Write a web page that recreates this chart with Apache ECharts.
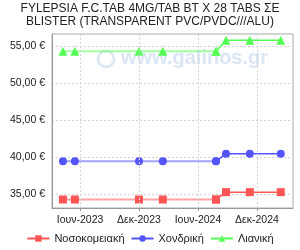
<!DOCTYPE html>
<html><head><meta charset="utf-8">
<script src="https://cdn.jsdelivr.net/npm/echarts@6/dist/echarts.min.js"></script>
<style>html,body{margin:0;padding:0;background:#fff}#c{width:300px;height:250px}</style>
</head><body><div id="c"></div>
<script>
const titleText = 'FYLEPSIA F.C.TAB 4MG/TAB BT X 28 TABS ΣΕ\nBLISTER (TRANSPARENT PVC/PVDC///ALU)';
const dates = ['2023-04-09','2023-05-16','2023-12-01','2024-02-13','2024-07-27','2024-08-27','2024-11-09','2025-02-13'];
const hospital  = [34.25,34.25,34.25,34.25,34.25,35.25,35.25,35.25];
const wholesale = [39.45,39.45,39.45,39.45,39.45,40.45,40.45,40.45];
const retail    = [54.35,54.35,54.35,54.35,54.35,55.85,55.85,55.85];
const seriesNames = ['Νοσοκομειακή','Χονδρική','Λιανική'];
const xTickDates = ['2023-06-01','2023-12-01','2024-06-01','2024-12-01'];
const xTickLabels = ['Ιουν-2023','Δεκ-2023','Ιουν-2024','Δεκ-2024'];
const yTicks = [35,40,45,50,55];
const splitIndex = 4; // older prices (up to this point) drawn with a faded line

const ts = s => new Date(s + 'T00:00:00Z').getTime();
const xTickVals = xTickDates.map(ts);
const pair = arr => dates.map((d,i)=>[ts(d), arr[i]]);

const colors = ['#ff5555','#5555ff','#55ff55'];
const symbols = [['rect',8],['circle',8],['triangle',9]];
const values = [hospital, wholesale, retail];

const series = [];
values.forEach((arr,k)=>{
  const pts = pair(arr);
  series.push({name:seriesNames[k],type:'line',data:pts.slice(splitIndex),symbol:symbols[k][0],symbolSize:symbols[k][1],
    color:colors[k],lineStyle:{width:1.5},z:3});
  series.push({name:seriesNames[k],type:'line',data:pts.slice(0,splitIndex+1),symbol:symbols[k][0],symbolSize:symbols[k][1],
    color:colors[k],lineStyle:{width:2,opacity:0.55},z:2});
});
series.push({type:'line',data:[],markLine:{silent:true,symbol:'none',label:{show:false},
  lineStyle:{color:'#d4d4d4',type:[2,2],width:1},data:xTickVals.map(v=>({xAxis:v}))}});

const chart = echarts.init(document.getElementById('c'));
const font = 'Liberation Sans';
chart.setOption({
  animation:false,
  textStyle:{fontFamily:font},
  title:{text:titleText,left:'center',top:2,padding:0,textStyle:{fontSize:12,fontWeight:'normal',color:'#222',lineHeight:13,fontFamily:font}},
  graphic:[{type:'text',left:121,top:48,silent:true,z:-1,style:{text:'www.galinos.gr',font:'bold 20px Liberation Sans',fill:'rgba(170,195,228,0.42)'}},
           {type:'circle',shape:{cx:106,cy:59,r:8},silent:true,z:-1,style:{fill:'none',stroke:'rgba(170,195,228,0.42)',lineWidth:2.5}}],
  grid:{left:52,right:7,top:34,bottom:42,show:true,borderColor:'#aaa',borderWidth:1},
  xAxis:{type:'value',min:ts('2023-03-06'),max:ts('2025-03-23'),
    axisLine:{lineStyle:{color:'#999'}},
    axisTick:{show:true,length:3,lineStyle:{color:'#999'},customValues:xTickVals},
    axisLabel:{customValues:xTickVals,fontSize:10.5,color:'#222',margin:7,
      formatter:v=>{const i=xTickVals.indexOf(v);return i>=0?xTickLabels[i]:'';}},
    splitLine:{show:false}},
  yAxis:{type:'value',min:33.1,max:56.7,
    axisLine:{show:true,lineStyle:{color:'#999'}},
    axisTick:{show:false,customValues:yTicks},
    axisLabel:{customValues:yTicks,fontSize:10.5,color:'#222',margin:7,
      formatter:v=>v.toFixed(2).replace('.',',')+' €'},
    splitLine:{show:true,lineStyle:{color:'#d4d4d4',type:[2,2]}}},
  legend:{bottom:1,left:'center',itemWidth:22,itemHeight:8,itemGap:6,textStyle:{fontSize:11,color:'#222'},
    data:seriesNames},
  series:series
});
</script></body></html>
